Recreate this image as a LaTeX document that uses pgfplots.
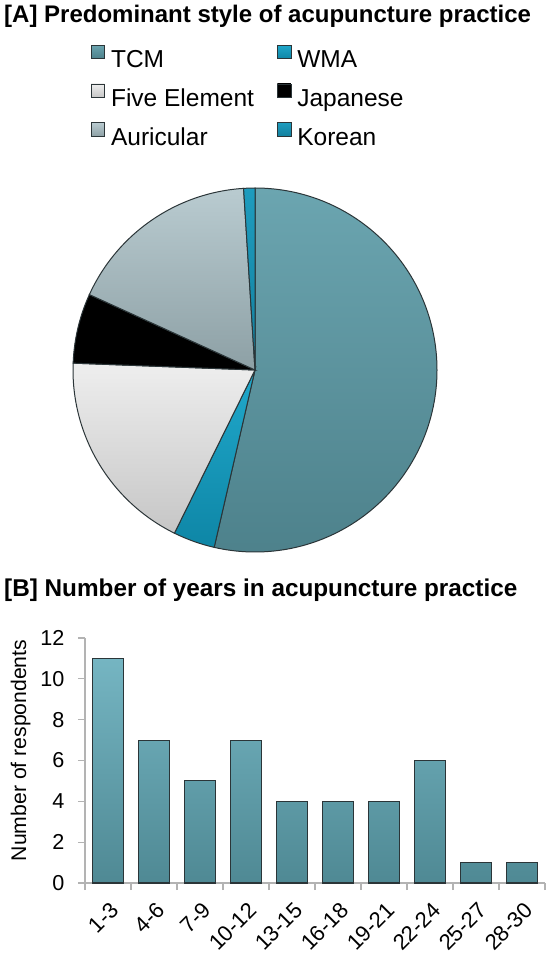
\documentclass[border=0pt]{standalone}
\usepackage{fontspec}
\setmainfont{Liberation Sans}
\usepackage{pgfplots}
\usepackage{pgfplotstable}
\pgfplotsset{compat=1.18}

\definecolor{tcmT}{HTML}{6BA5B0}
\definecolor{tcmB}{HTML}{4D818B}
\definecolor{wmaT}{HTML}{20A8CB}
\definecolor{wmaB}{HTML}{0E86A6}
\definecolor{fiveT}{HTML}{EEEEEE}
\definecolor{fiveB}{HTML}{C6C6C6}
\definecolor{japT}{HTML}{000000}
\definecolor{japB}{HTML}{000000}
\definecolor{aurT}{HTML}{B9CBD0}
\definecolor{aurB}{HTML}{8DA0A5}
\definecolor{korT}{HTML}{1E9CBE}
\definecolor{korB}{HTML}{13809E}
\definecolor{barT}{HTML}{75B5C2}
\definecolor{barB}{HTML}{4F8994}
\definecolor{edge}{HTML}{2B3538}
\definecolor{axgray}{HTML}{B3B3B3}

\pgfplotsset{sqlegend/.style={legend image code/.code={%
  \draw[##1, draw=edge, line width=0.8pt] (0pt,3.5pt) rectangle (13.5pt,17pt);}}}

% share of respondents per style (percent)
\pgfplotstableread{
key pct
tcm 53.6
wma 3.7
five 18.3
jap 6.2
aur 17.2
kor 1.0
}\piedata

\pgfplotstableread{
x n label
0 11 1-3
1 7 4-6
2 5 7-9
3 7 10-12
4 4 13-15
5 4 16-18
6 4 19-21
7 6 22-24
8 1 25-27
9 1 28-30
}\bardata

\begin{document}
\begin{tikzpicture}
\path[use as bounding box] (0pt,0pt) rectangle (550pt,-958pt);

\node[anchor=base west, inner sep=0pt, font=\fontsize{24}{28}\selectfont\bfseries]
  at (4pt,-23pt) {[A] Predominant style of acupuncture practice};
\node[anchor=base west, inner sep=0pt, font=\fontsize{24.3}{28}\selectfont\bfseries]
  at (4pt,-596pt) {[B] Number of years in acupuncture practice};

\begin{axis}[
  at={(73pt,-552pt)}, anchor=south west,
  scale only axis, width=364pt, height=364pt,
  hide axis, clip=false,
  xmin=-1, xmax=1, ymin=-1, ymax=1,
  legend columns=2,
  legend cell align=left,
  legend style={at={(0.04,1.40)}, anchor=north west, draw=none, fill=none,
    font=\fontsize{24.5}{28}\selectfont,
    nodes={inner sep=2pt, text height=16pt, text depth=5pt},
    column sep=4pt, row sep=9pt,
    /tikz/every even column/.append style={column sep=21pt}},
]
\def\pcum{0}
\pgfplotsforeachungrouped \i in {0,...,5}{%
  \pgfplotstablegetelem{\i}{pct}\of\piedata \let\pval=\pgfplotsretval
  \pgfplotstablegetelem{\i}{key}\of\piedata \let\pkey=\pgfplotsretval
  \pgfmathsetmacro\pa{90-3.6*\pcum}
  \pgfmathsetmacro\pb{90-3.6*(\pcum+\pval)}
  \edef\temp{\noexpand\draw[top color=\pkey T, bottom color=\pkey B, draw=edge, line width=1pt]
    (axis cs:0,0) -- +(\pa:182pt) arc[start angle=\pa, end angle=\pb, radius=182pt] -- cycle;}
  \temp
  \pgfmathsetmacro\pcum{\pcum+\pval}
}
\addlegendimage{sqlegend, top color=tcmT, bottom color=tcmB}
\addlegendentry{TCM}
\addlegendimage{sqlegend, top color=wmaT, bottom color=wmaB}
\addlegendentry{WMA}
\addlegendimage{sqlegend, top color=fiveT, bottom color=fiveB}
\addlegendentry{Five Element}
\addlegendimage{sqlegend, top color=japT, bottom color=japB}
\addlegendentry{Japanese}
\addlegendimage{sqlegend, top color=aurT, bottom color=aurB}
\addlegendentry{Auricular}
\addlegendimage{sqlegend, top color=korT, bottom color=korB}
\addlegendentry{Korean}
\end{axis}

\begin{axis}[
  at={(85pt,-883pt)}, anchor=south west,
  scale only axis, width=460pt, height=245pt,
  xmin=-0.5, xmax=9.5, ymin=0, ymax=12,
  axis x line*=bottom, axis y line*=left,
  axis line style={draw=axgray, line width=1.2pt, -},
  tick align=outside,
  ytick={0,2,...,12},
  xtick={0,...,9},
  xticklabels from table={\bardata}{label},
  minor xtick={-0.5,0.5,...,9.5},
  major x tick style={draw=none},
  tick style={draw=axgray, line width=1.2pt},
  minor tick style={draw=axgray, line width=1.2pt},
  major tick length=7pt, minor tick length=7pt,
  /pgf/number format/assume math mode=true,
  ticklabel style={text=black},
  yticklabel style={font=\fontsize{21.6}{26}\selectfont, xshift=-10pt},
  xticklabel style={font=\fontsize{22}{26}\selectfont, xshift=1pt, yshift=-11pt,
    rotate=45, anchor=north east, inner sep=0pt},
  ylabel={Number of respondents},
  ylabel style={font=\fontsize{21.2}{26}\selectfont, at={(axis description cs:-0.140,0.541)}, anchor=center},
]
\addplot[ybar, bar width=0.66, top color=barT, bottom color=barB, draw=edge, line width=1.1pt]
  table[x=x, y=n] {\bardata};
\end{axis}
\end{tikzpicture}
\end{document}
